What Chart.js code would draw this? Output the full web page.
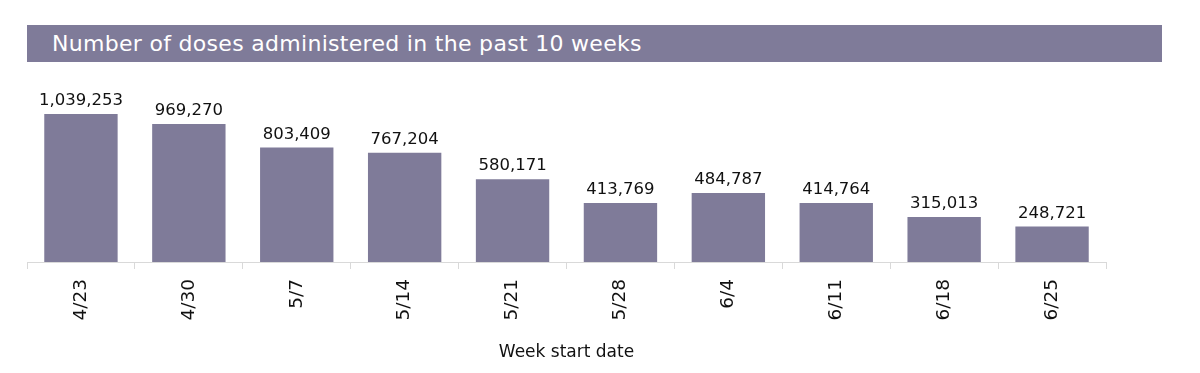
<!DOCTYPE html>
<html>
<head>
<meta charset="utf-8">
<script src="https://cdn.jsdelivr.net/npm/chart.js@4/dist/chart.umd.min.js"></script>
<style>
  html, body { margin: 0; padding: 0; background: #fff; }
  #wrap { position: relative; width: 1200px; height: 373px; }
  #banner {
    position: absolute; left: 27px; top: 25px; width: 1135px; height: 37px;
    background: #7f7b99; color: #fff;
    font-family: 'DejaVu Sans', sans-serif; font-size: 22px; letter-spacing: 0.3px;
    line-height: 37px; padding-left: 25px; box-sizing: border-box;
  }
  canvas { position: absolute; left: 0; top: 0; }
</style>
</head>
<body>
<div id="wrap">
  <canvas id="chart" width="1200" height="373"></canvas>
  <div id="banner">Number of doses administered in the past 10 weeks</div>
</div>
<script>
const weeks = ['4/23', '4/30', '5/7', '5/14', '5/21', '5/28', '6/4', '6/11', '6/18', '6/25'];
const doses = [1039253, 969270, 803409, 767204, 580171, 413769, 484787, 414764, 315013, 248721];

const BAR_COLOR = '#7f7b99';
const FONT = "'DejaVu Sans', sans-serif";

// value labels above each bar
const valueLabels = {
  id: 'valueLabels',
  afterDatasetsDraw(chart) {
    const { ctx } = chart;
    const meta = chart.getDatasetMeta(0);
    ctx.save();
    ctx.font = '16.5px ' + FONT;
    ctx.fillStyle = '#111';
    ctx.textAlign = 'center';
    ctx.textBaseline = 'bottom';
    meta.data.forEach((bar, i) => {
      ctx.fillText(doses[i].toLocaleString('en-US'), bar.x, bar.y - 5);
    });
    ctx.restore();
  },
};

new Chart(document.getElementById('chart').getContext('2d'), {
  type: 'bar',
  data: {
    labels: weeks,
    datasets: [{
      data: doses,
      backgroundColor: BAR_COLOR,
      borderWidth: 0,
      barPercentage: 0.68,
      categoryPercentage: 1,
    }],
  },
  options: {
    animation: false,
    responsive: false,
    layout: { padding: { left: 27, right: 94, top: 91, bottom: 8 } },
    scales: {
      x: {
        grid: { offset: true, drawOnChartArea: false, color: '#d9d9d9', tickLength: 7 },
        border: { color: '#d9d9d9' },
        ticks: { color: '#111', font: { family: FONT, size: 18.5 }, minRotation: 90, maxRotation: 90, padding: 10 },
        title: { display: true, text: 'Week start date', color: '#111', font: { family: FONT, size: 17 }, padding: { top: 10, bottom: 2 } },
        afterFit(scale) { scale.height = 103; },
      },
      y: { display: false, min: 0, max: 1200000 },
    },
    plugins: { legend: { display: false }, tooltip: { enabled: false } },
  },
  plugins: [valueLabels],
});
</script>
</body>
</html>
